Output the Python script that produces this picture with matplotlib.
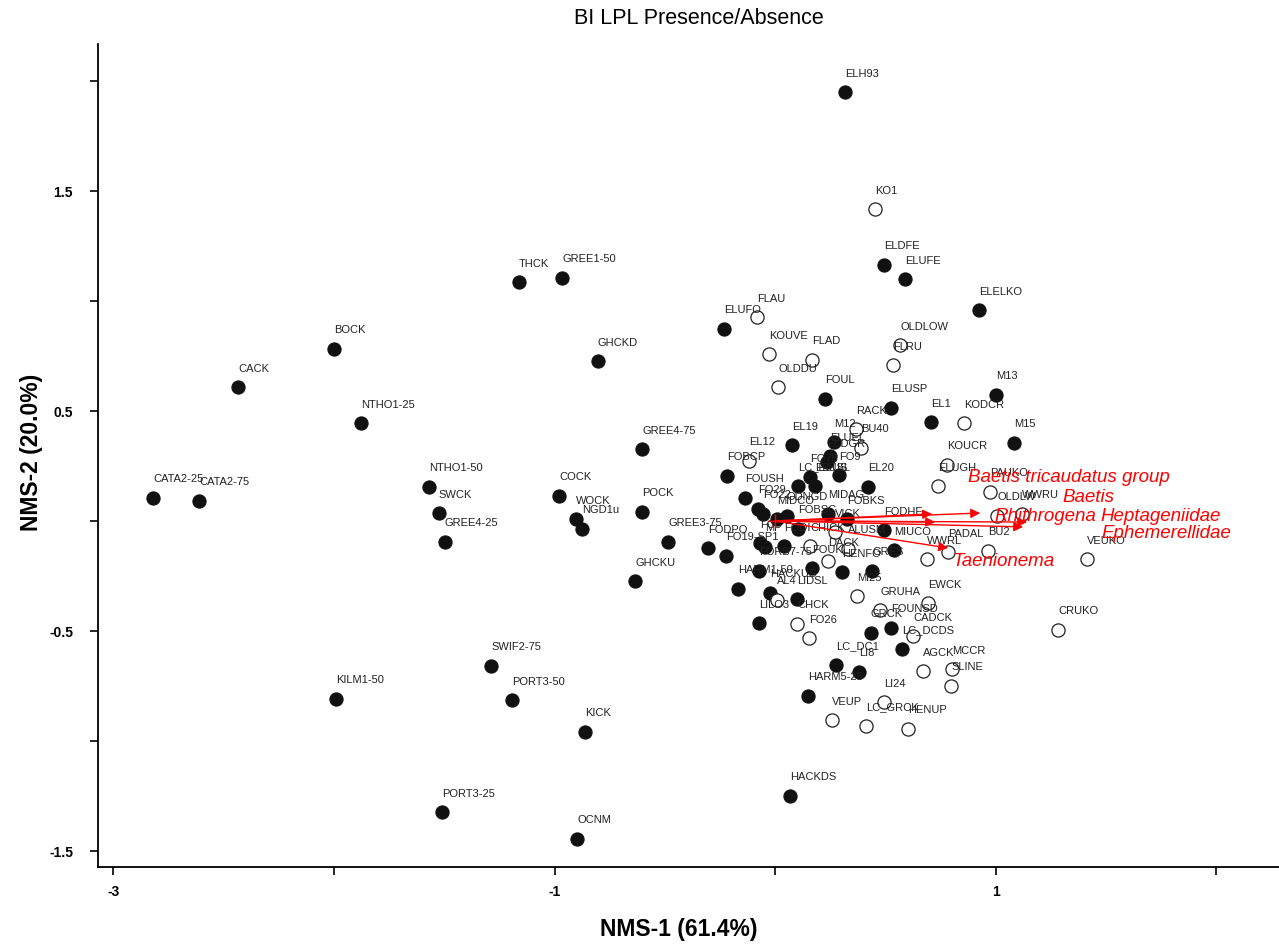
import matplotlib.pyplot as plt

plt.rcParams['font.family'] = ['Liberation Sans', 'DejaVu Sans']

# -----------------------------------------------------
# Site scores on NMS axes 1 and 2 (1 = presence, 0 = absence)
# -----------------------------------------------------
sites = ['CATA2-25', 'CATA2-75', 'CACK', 'BOCK', 'NTHO1-25', 'NTHO1-50', 'SWCK',
         'GREE4-25', 'KILM1-50', 'PORT3-25', 'SWIF2-75', 'PORT3-50', 'KICK', 'OCNM',
         'THCK', 'GREE1-50', 'GHCKD', 'COCK', 'WOCK', 'NGD1u', 'GREE4-75', 'POCK',
         'GREE3-75', 'GHCKU', 'ELH93', 'KO1', 'ELDFE', 'ELUFE', 'ELELKO', 'ELUFO',
         'FLAU', 'KOUVE', 'FLAD', 'OLDDU', 'FOUL', 'OLDLOW', 'FLRU', 'ELUSP', 'RACK',
         'EL1', 'KODCR', 'M13', 'M15', 'KOUCR', 'ELUGH', 'PAUKO', 'OLDLW', 'WWRU',
         'BU2', 'PADAL', 'WWRL', 'VEUKO', 'CRUKO', 'MIUCO', 'FODHE', 'EL19', 'EL12',
         'FOBCP', 'M12', 'BU40', 'ELUEL', 'ELDGR', 'FO78', 'FO9', 'LC_ELUS', 'ELUSL',
         'EL20', 'FOUSH', 'FO29', 'FO22', 'MIDCO', 'ODNGD', 'MIDAG', 'FOBKS', 'FOBSC',
         'VICK', 'ALUSM', 'FO', 'MP', 'FODI', 'CHICK', 'FODPO', 'FO19-SP1', 'FORB7-75',
         'FOUKL', 'DACK', 'HENFO', 'GRES', 'HARM1-50', 'HACKUS', 'AL4', 'LIDSL', 'MI25',
         'LILO3', 'CHCK', 'FO26', 'GRUHA', 'GRCK', 'FOUNSD', 'LC_DCDS', 'CADCK', 'EWCK',
         'AGCK', 'MCCR', 'SLINE', 'LI24', 'LC_GRCK', 'HENUP', 'VEUP', 'HARM5-25',
         'LC_DC1', 'LI8', 'HACKDS']

nms1 = [-2.821, -2.612, -2.435, -2.000, -1.878, -1.569, -1.524,
        -1.497, -1.991, -1.510, -1.288, -1.193, -0.862, -0.898,
        -1.161, -0.966, -0.803, -0.980, -0.902, -0.875, -0.603, -0.603,
        -0.485, -0.635, 0.317, 0.454, 0.494, 0.590, 0.925, -0.231,
        -0.082, -0.027, 0.168, 0.014, 0.227, 0.567, 0.535, 0.526, 0.367,
        0.707, 0.857, 1.002, 1.084, 0.780, 0.739, 0.975, 1.007, 1.120,
        0.966, 0.785, 0.689, 1.415, 1.283, 0.540, 0.494, 0.077, -0.118,
        -0.218, 0.268, 0.390, 0.249, 0.236, 0.159, 0.290, 0.104, 0.181,
        0.422, -0.136, -0.077, -0.054, 0.009, 0.054, 0.240, 0.327, 0.104,
        0.272, 0.331, -0.068, -0.045, 0.041, 0.159, -0.304, -0.222, -0.073,
        0.168, 0.240, 0.304, 0.440, -0.168, -0.023, 0.009, 0.100, 0.372,
        -0.073, 0.100, 0.154, 0.476, 0.435, 0.526, 0.576, 0.626, 0.694,
        0.671, 0.803, 0.798, 0.494, 0.413, 0.603, 0.259, 0.150,
        0.277, 0.381, 0.068]

nms2 = [0.105, 0.091, 0.609, 0.782, 0.445, 0.155, 0.036,
        -0.095, -0.809, -1.323, -0.659, -0.814, -0.959, -1.445,
        1.086, 1.105, 0.727, 0.114, 0.009, -0.036, 0.327, 0.041,
        -0.095, -0.273, 1.950, 1.418, 1.164, 1.100, 0.959, 0.873,
        0.927, 0.759, 0.732, 0.609, 0.555, 0.800, 0.709, 0.514, 0.418,
        0.450, 0.445, 0.573, 0.355, 0.255, 0.159, 0.132, 0.023, 0.032,
        -0.136, -0.141, -0.173, -0.173, -0.495, -0.132, -0.041, 0.345, 0.273,
        0.205, 0.359, 0.332, 0.295, 0.268, 0.200, 0.209, 0.159, 0.159,
        0.155, 0.105, 0.055, 0.032, 0.009, 0.023, 0.032, 0.009, -0.036,
        -0.050, -0.127, -0.100, -0.118, -0.114, -0.114, -0.123, -0.159, -0.227,
        -0.214, -0.182, -0.232, -0.227, -0.309, -0.327, -0.359, -0.355, -0.341,
        -0.464, -0.468, -0.532, -0.405, -0.509, -0.486, -0.582, -0.523, -0.373,
        -0.682, -0.673, -0.750, -0.823, -0.932, -0.945, -0.905, -0.795,
        -0.655, -0.686, -1.250]

presence = [1, 1, 1, 1, 1, 1, 1,
            1, 1, 1, 1, 1, 1, 1,
            1, 1, 1, 1, 1, 1, 1, 1,
            1, 1, 1, 0, 1, 1, 1, 1,
            0, 0, 0, 0, 1, 0, 0, 1, 0,
            1, 0, 1, 1, 0, 0, 0, 0, 0,
            0, 0, 0, 0, 0, 1, 1, 1, 0,
            1, 1, 0, 1, 1, 1, 1, 1, 1,
            1, 1, 1, 1, 1, 1, 1, 1, 1,
            0, 0, 1, 1, 1, 0, 1, 1, 1,
            1, 0, 1, 1, 1, 1, 0, 1, 0,
            1, 0, 0, 0, 1, 1, 1, 0, 0,
            0, 0, 0, 0, 0, 0, 0, 1,
            1, 1, 1]

# -----------------------------------------------------
# Taxon vectors (joint plot)
# -----------------------------------------------------
taxa = ['Baetis tricaudatus group', 'Baetis', 'Rhithrogena', 'Heptageniidae',
        'Ephemerellidae', 'Taenionema']
vec1 = [0.712, 0.930, 0.726, 1.143, 1.125, 0.785]
vec2 = [0.032, 0.036, -0.005, -0.005, -0.027, -0.123]
# label offsets from the arrow tip, in points
taxa_offsets = [(26, 27), (59, 12), (43, 5), (53, 5), (56, -4), (3, -9)]

fig = plt.figure(figsize=(12.79, 9.45), dpi=100)
ax = fig.add_axes([98 / 1279, 1 - 868 / 945, 1 - 98 / 1279, (868 - 45) / 945])

filled_x = [x for x, p in zip(nms1, presence) if p]
filled_y = [y for y, p in zip(nms2, presence) if p]
open_x = [x for x, p in zip(nms1, presence) if not p]
open_y = [y for y, p in zip(nms2, presence) if not p]

ax.scatter(filled_x, filled_y, s=90, color='#111111', edgecolors='#111111',
           linewidths=0.8, zorder=3)
ax.scatter(open_x, open_y, s=90, facecolors='white', edgecolors='#222222',
           linewidths=0.9, zorder=3)

for name, x, y in zip(sites, nms1, nms2):
    ax.annotate(name, (x, y), xytext=(0, 14), textcoords='offset points',
                ha='left', va='center', fontsize=8, color='#222222', zorder=4)

# taxon arrows from the centroid
for name, vx, vy, off in zip(taxa, vec1, vec2, taxa_offsets):
    ax.annotate('', xy=(vx, vy), xytext=(0, 0),
                arrowprops=dict(arrowstyle='-|>', color='red', lw=1.0,
                                mutation_scale=14, shrinkA=0, shrinkB=0),
                zorder=5)
    ax.annotate(name, (vx, vy), xytext=off, textcoords='offset points',
                ha='left', va='center', fontsize=13.5, style='italic',
                color='red', zorder=6)
ax.plot([0], [0], marker='+', color='red', markersize=10, mew=1.0, zorder=6)

ax.set_xlim(-3.07, 2.285)
ax.set_ylim(-1.573, 2.168)

ax.spines['top'].set_visible(False)
ax.spines['right'].set_visible(False)
ax.spines['left'].set_linewidth(1.3)
ax.spines['bottom'].set_linewidth(1.3)

xt = [-3, -2, -1, 0, 1, 2]
ax.set_xticks(xt)
ax.set_xticklabels(['-3', '', '-1', '', '1', ''])
yt = [-1.5, -1.0, -0.5, 0.0, 0.5, 1.0, 1.5, 2.0]
ax.set_yticks(yt)
ax.set_yticklabels(['-1.5', '', '-0.5', '', '0.5', '', '1.5', ''])
ax.tick_params(axis='both', direction='out', length=6, width=1.2,
               labelsize=10)
ax.tick_params(axis='x', pad=6)
ax.tick_params(axis='y', pad=12)
for lab in ax.get_xticklabels() + ax.get_yticklabels():
    lab.set_fontweight('bold')

fig.text(679 / 1279, 1 - 930 / 945, 'NMS-1 (61.4%)', ha='center', va='center',
         fontsize=16.5, fontweight='bold')
fig.text(32 / 1279, 1 - 452 / 945, 'NMS-2 (20.0%)', ha='center', va='center',
         rotation=90, fontsize=16.5, fontweight='bold')
fig.text(699 / 1279, 1 - 18 / 945, 'BI LPL Presence/Absence', ha='center',
         va='center', fontsize=15.5)

fig.savefig('out.png', dpi=100)
